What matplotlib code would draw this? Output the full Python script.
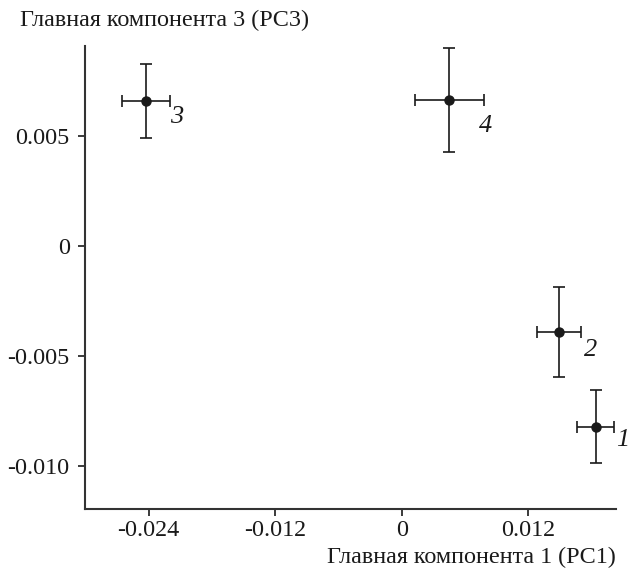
import matplotlib
matplotlib.use("Agg")
import matplotlib.pyplot as plt

# Data
labels = ["1", "2", "3", "4"]
pc1 = [0.0184, 0.01492, -0.02428, 0.00452]
pc3 = [-0.00823, -0.00391, 0.00658, 0.00662]
pc1_err = [0.00177, 0.00213, 0.00228, 0.00327]
pc3_err = [0.00167, 0.00205, 0.00166, 0.00235]
xticks = [-0.024, -0.012, 0, 0.012]
xtick_labels = ["-0.024", "-0.012", "0", "0.012"]
yticks = [0.005, 0, -0.005, -0.010]
ytick_labels = ["0.005", "0", "-0.005", "-0.010"]

# label offsets in points
label_offsets = [(19.5, -9.5), (23, -13), (22, -11.5), (26, -19)]

plt.rcParams['font.family'] = ['Liberation Serif', 'DejaVu Serif']

fig = plt.figure(figsize=(6.32, 5.71), dpi=100)
ax = fig.add_axes([85/632, 1-509/571, (616-85)/632, (509-46)/571])

col = '#1a1a1a'
ax.errorbar(pc1, pc3, xerr=pc1_err, yerr=pc3_err, fmt='o', color=col,
            ecolor=col, elinewidth=1.2, capsize=4, capthick=1.2, markersize=6.5)

for x, y, lab, off in zip(pc1, pc3, labels, label_offsets):
    ax.annotate(lab, (x, y), xytext=off, textcoords='offset points',
                fontsize=19, style='italic', ha='center', va='center', color=col)

ax.set_xlim(-0.03004, 0.02033)
ax.set_ylim(-0.01197, 0.00908)
ax.set_xticks(xticks)
ax.set_xticklabels(xtick_labels)
ax.set_yticks(yticks)
ax.set_yticklabels(ytick_labels)
ax.tick_params(direction='out', length=5, width=1.2, colors=col, labelsize=17.4)
ax.tick_params(axis='x', pad=3)
ax.tick_params(axis='y', pad=6)
for s in ['top', 'right']:
    ax.spines[s].set_visible(False)
for s in ['left', 'bottom']:
    ax.spines[s].set_linewidth(1.5)
    ax.spines[s].set_color('#333333')

fig.text(20/632, 1-20/571, "Главная компонента 3 (PC3)", fontsize=17.4, ha='left', va='center', color=col)
fig.text(616/632, 1-557/571, "Главная компонента 1 (PC1)", fontsize=17.4, ha='right', va='center', color=col)

fig.savefig("out.png", dpi=100)
